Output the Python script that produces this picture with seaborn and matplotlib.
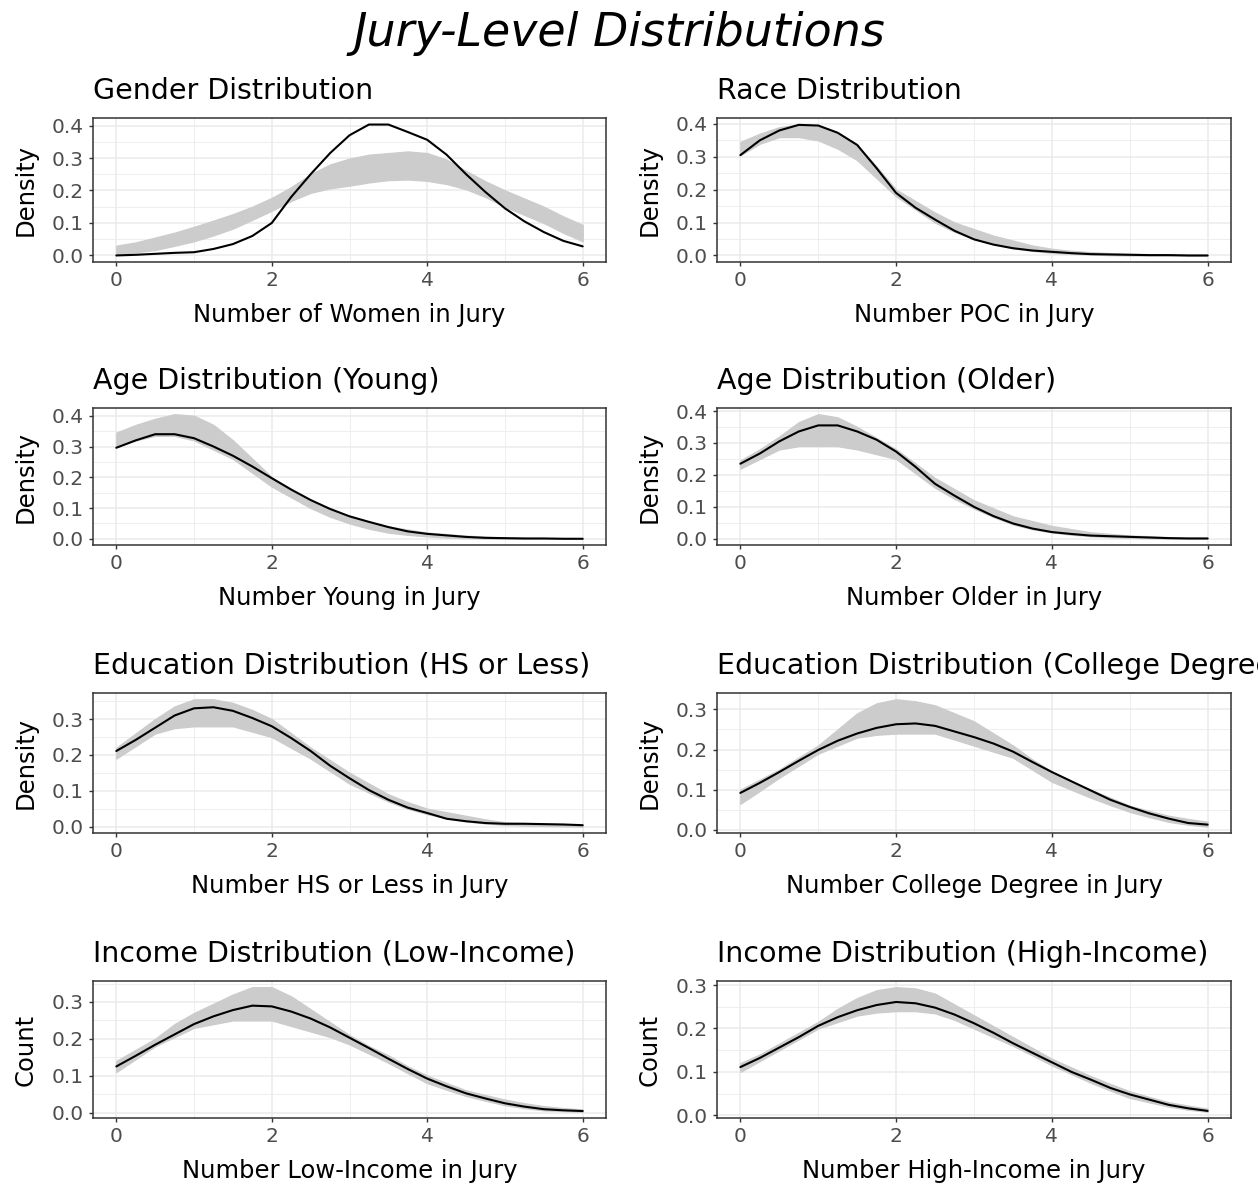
import numpy as np
import pandas as pd
import matplotlib
matplotlib.use("Agg")
import matplotlib.pyplot as plt
import seaborn as sns
from matplotlib.ticker import MultipleLocator

# Observed density (black) and simulated envelope (grey), on a 0.25 grid from 0 to 6
x_grid = [i * 0.25 for i in range(25)]

titles = [
    "Gender Distribution", "Race Distribution",
    "Age Distribution (Young)", "Age Distribution (Older)",
    "Education Distribution (HS or Less)", "Education Distribution (College Degree)",
    "Income Distribution (Low-Income)", "Income Distribution (High-Income)",
]
xlabels = [
    "Number of Women in Jury", "Number POC in Jury",
    "Number Young in Jury", "Number Older in Jury",
    "Number HS or Less in Jury", "Number College Degree in Jury",
    "Number Low-Income in Jury", "Number High-Income in Jury",
]
ylabels = ["Density"] * 6 + ["Count"] * 2

gender_obs = [0.0, 0.002, 0.005, 0.008, 0.01, 0.02, 0.035, 0.06, 0.10, 0.18, 0.25, 0.315,
              0.37, 0.403, 0.403, 0.38, 0.356, 0.31, 0.25, 0.195, 0.145, 0.105, 0.072, 0.045, 0.028]
gender_lo = [0.005, 0.01, 0.017, 0.03, 0.044, 0.062, 0.083, 0.11, 0.138, 0.168, 0.193, 0.207,
             0.215, 0.225, 0.232, 0.234, 0.23, 0.22, 0.204, 0.18, 0.15, 0.125, 0.10, 0.07, 0.044]
gender_hi = [0.03, 0.04, 0.055, 0.07, 0.088, 0.107, 0.127, 0.15, 0.177, 0.21, 0.25, 0.28,
             0.298, 0.31, 0.315, 0.32, 0.315, 0.295, 0.26, 0.228, 0.20, 0.175, 0.15, 0.12, 0.094]

race_obs = [0.305, 0.35, 0.38, 0.397, 0.395, 0.373, 0.336, 0.265, 0.19, 0.145, 0.109, 0.075,
            0.049, 0.033, 0.022, 0.015, 0.011, 0.007, 0.004, 0.003, 0.002, 0.001, 0.001, 0.0, 0.0]
race_lo = [0.305, 0.34, 0.36, 0.36, 0.35, 0.325, 0.29, 0.235, 0.18, 0.14, 0.10, 0.072,
           0.05, 0.035, 0.022, 0.014, 0.008, 0.005, 0.003, 0.001, 0.0, 0.0, 0.0, 0.0, 0.0]
race_hi = [0.345, 0.37, 0.39, 0.398, 0.395, 0.37, 0.335, 0.27, 0.20, 0.165, 0.13, 0.10,
           0.08, 0.06, 0.045, 0.03, 0.02, 0.014, 0.01, 0.007, 0.005, 0.004, 0.003, 0.001, 0.0]

young_obs = [0.296, 0.32, 0.34, 0.34, 0.327, 0.30, 0.27, 0.235, 0.197, 0.16, 0.126, 0.097,
             0.073, 0.055, 0.038, 0.024, 0.016, 0.011, 0.006, 0.003, 0.002, 0.001, 0.001, 0.0, 0.0]
young_lo = [0.30, 0.32, 0.335, 0.335, 0.32, 0.29, 0.26, 0.215, 0.17, 0.135, 0.10, 0.072,
            0.05, 0.033, 0.02, 0.013, 0.008, 0.004, 0.002, 0.001, 0.0, 0.0, 0.0, 0.0, 0.0]
young_hi = [0.345, 0.37, 0.39, 0.405, 0.40, 0.37, 0.32, 0.26, 0.20, 0.16, 0.125, 0.095,
            0.07, 0.055, 0.04, 0.03, 0.02, 0.015, 0.01, 0.007, 0.004, 0.002, 0.001, 0.0, 0.0]

older_obs = [0.235, 0.267, 0.305, 0.336, 0.355, 0.355, 0.336, 0.31, 0.273, 0.225, 0.172, 0.135,
             0.10, 0.071, 0.048, 0.032, 0.021, 0.015, 0.01, 0.008, 0.006, 0.004, 0.002, 0.001, 0.001]
older_lo = [0.22, 0.25, 0.28, 0.29, 0.29, 0.29, 0.28, 0.265, 0.25, 0.205, 0.16, 0.125,
            0.095, 0.068, 0.045, 0.03, 0.02, 0.013, 0.008, 0.005, 0.003, 0.002, 0.001, 0.0, 0.0]
older_hi = [0.245, 0.28, 0.32, 0.365, 0.39, 0.38, 0.35, 0.315, 0.28, 0.235, 0.19, 0.155,
            0.12, 0.095, 0.07, 0.055, 0.04, 0.03, 0.02, 0.015, 0.01, 0.008, 0.005, 0.003, 0.002]

hs_obs = [0.211, 0.242, 0.276, 0.31, 0.33, 0.333, 0.323, 0.303, 0.28, 0.247, 0.211, 0.17,
          0.135, 0.102, 0.075, 0.053, 0.038, 0.022, 0.015, 0.01, 0.008, 0.008, 0.007, 0.006, 0.004]
hs_lo = [0.19, 0.225, 0.26, 0.275, 0.28, 0.28, 0.28, 0.265, 0.25, 0.22, 0.19, 0.155,
         0.12, 0.095, 0.07, 0.05, 0.035, 0.024, 0.015, 0.009, 0.005, 0.003, 0.002, 0.001, 0.0]
hs_hi = [0.22, 0.26, 0.30, 0.335, 0.355, 0.355, 0.345, 0.325, 0.30, 0.26, 0.22, 0.185,
         0.15, 0.12, 0.09, 0.068, 0.05, 0.04, 0.03, 0.02, 0.012, 0.01, 0.007, 0.006, 0.005]

college_obs = [0.092, 0.117, 0.144, 0.172, 0.199, 0.222, 0.24, 0.254, 0.263, 0.265, 0.259, 0.245,
               0.231, 0.215, 0.195, 0.169, 0.144, 0.121, 0.098, 0.075, 0.057, 0.041, 0.028, 0.017, 0.013]
college_lo = [0.065, 0.097, 0.13, 0.16, 0.19, 0.21, 0.23, 0.237, 0.24, 0.24, 0.24, 0.225,
              0.21, 0.195, 0.18, 0.15, 0.12, 0.10, 0.08, 0.062, 0.045, 0.032, 0.02, 0.013, 0.008]
college_hi = [0.10, 0.125, 0.15, 0.18, 0.21, 0.25, 0.29, 0.315, 0.325, 0.32, 0.31, 0.29,
              0.27, 0.24, 0.21, 0.175, 0.145, 0.12, 0.10, 0.08, 0.06, 0.047, 0.035, 0.027, 0.02]

low_obs = [0.125, 0.154, 0.184, 0.212, 0.24, 0.261, 0.278, 0.29, 0.288, 0.274, 0.255, 0.231,
           0.203, 0.175, 0.146, 0.118, 0.092, 0.071, 0.052, 0.038, 0.025, 0.016, 0.009, 0.006, 0.004]
low_lo = [0.11, 0.145, 0.18, 0.205, 0.23, 0.24, 0.25, 0.25, 0.25, 0.235, 0.22, 0.205,
          0.185, 0.16, 0.135, 0.107, 0.08, 0.062, 0.045, 0.032, 0.02, 0.012, 0.006, 0.004, 0.002]
low_hi = [0.14, 0.17, 0.20, 0.24, 0.27, 0.295, 0.32, 0.34, 0.34, 0.315, 0.28, 0.245,
          0.21, 0.18, 0.155, 0.125, 0.10, 0.08, 0.06, 0.047, 0.035, 0.025, 0.017, 0.012, 0.008]

high_obs = [0.111, 0.132, 0.156, 0.18, 0.206, 0.226, 0.242, 0.254, 0.261, 0.258, 0.248, 0.232,
            0.212, 0.19, 0.166, 0.144, 0.122, 0.10, 0.082, 0.063, 0.048, 0.036, 0.024, 0.016, 0.01]
high_lo = [0.10, 0.125, 0.15, 0.175, 0.20, 0.215, 0.23, 0.237, 0.24, 0.24, 0.235, 0.22,
           0.20, 0.18, 0.16, 0.138, 0.115, 0.095, 0.075, 0.057, 0.04, 0.03, 0.02, 0.013, 0.008]
high_hi = [0.12, 0.14, 0.165, 0.19, 0.215, 0.245, 0.27, 0.288, 0.295, 0.292, 0.28, 0.255,
           0.23, 0.205, 0.18, 0.155, 0.13, 0.11, 0.09, 0.072, 0.055, 0.042, 0.03, 0.022, 0.015]

observed = [gender_obs, race_obs, young_obs, older_obs, hs_obs, college_obs, low_obs, high_obs]
sim_lower = [gender_lo, race_lo, young_lo, older_lo, hs_lo, college_lo, low_lo, high_lo]
sim_upper = [gender_hi, race_hi, young_hi, older_hi, hs_hi, college_hi, low_hi, high_hi]

sns.set_theme(style="white")
plt.rcParams["font.family"] = ["DejaVu Sans"]

W, H = 1258, 1195
fig = plt.figure(figsize=(W / 100, H / 100), dpi=100)

col_x = [(93, 606), (717, 1231)]
row_y = [(118, 262), (408, 545), (693, 833), (981, 1118)]

grey20 = "#333333"
grey30 = "#4D4D4D"

for i in range(8):
    r, c = divmod(i, 2)
    x0, x1 = col_x[c]
    y0, y1 = row_y[r]
    ax = fig.add_axes([x0 / W, 1 - y1 / H, (x1 - x0) / W, (y1 - y0) / H])

    ax.fill_between(x_grid, sim_lower[i], sim_upper[i], color="#CCCCCC", lw=1.0,
                    edgecolor="#CCCCCC", zorder=2)
    df = pd.DataFrame({"x": x_grid, "y": observed[i]})
    sns.lineplot(data=df, x="x", y="y", ax=ax, color="black", lw=1.5, zorder=3)

    lo = min(min(observed[i]), min(sim_lower[i]))
    hi = max(max(observed[i]), max(sim_upper[i]))
    pad = (hi - lo) * 0.05
    ax.set_xlim(-0.3, 6.3)

    ax.xaxis.set_minor_locator(MultipleLocator(1))
    ax.yaxis.set_major_locator(MultipleLocator(0.1))
    ax.yaxis.set_minor_locator(MultipleLocator(0.05))
    ax.set_xticks([0, 2, 4, 6])
    ax.set_xticklabels(["0", "2", "4", "6"])
    ax.set_ylim(lo - pad, hi + pad)
    ticks = [t for t in ax.get_yticks() if lo - pad <= t <= hi + pad]
    ax.set_yticks(ticks)
    ax.set_yticklabels([f"{t:.1f}" for t in ticks])
    ax.set_ylim(lo - pad, hi + pad)

    ax.grid(which="major", color="#EBEBEB", lw=1.1, zorder=0)
    ax.grid(which="minor", color="#EBEBEB", lw=0.6, zorder=0)
    ax.set_axisbelow(True)
    for s in ax.spines.values():
        s.set_color(grey20)
        s.set_linewidth(1.1)
    ax.tick_params(which="major", length=3, width=1.0, color=grey20, labelsize=14.5,
                   labelcolor=grey30, pad=3.5, bottom=True, left=True)
    ax.tick_params(which="minor", length=0)

    ax.set_title(titles[i], loc="left", fontsize=20.5, color="black", pad=14)
    ax.set_xlabel(xlabels[i], fontsize=17.5, color="black", labelpad=9)
    ax.set_ylabel(ylabels[i], fontsize=17.5, color="black", labelpad=10)

fig.text(619 / W, 1 - 46 / H, "Jury-Level Distributions", ha="center", va="baseline",
         fontsize=33, style="italic", color="black")

fig.savefig("out.png", dpi=100)
